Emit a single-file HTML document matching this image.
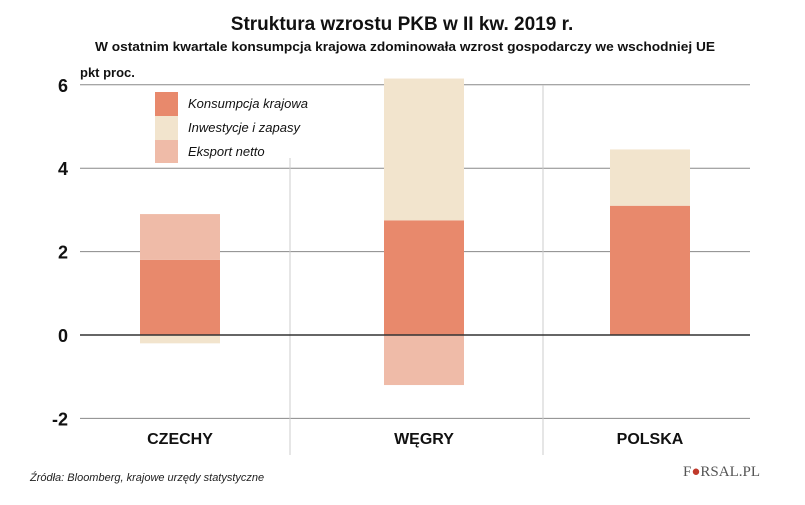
<!DOCTYPE html>
<html><head><meta charset="utf-8"><style>
body{margin:0;background:#fff;width:805px;height:500px;overflow:hidden;font-family:"Liberation Sans",sans-serif}
svg text{font-family:"Liberation Sans",sans-serif}
</style></head><body>
<svg id="chart" width="805" height="500">
<text x="402" y="30" text-anchor="middle" font-size="19" font-weight="bold" fill="#111">Struktura wzrostu PKB w II kw. 2019 r.</text>
<text x="95" y="51" textLength="620" lengthAdjust="spacingAndGlyphs" font-size="12.5" font-weight="bold" fill="#111">W ostatnim kwartale konsumpcja krajowa zdominowała wzrost gospodarczy we wschodniej UE</text>
<text x="80" y="77" font-size="13" font-weight="bold" fill="#111">pkt proc.</text>
<g id="grid"></g>
<line x1="290" y1="158" x2="290" y2="455" stroke="#ccc"/>
<line x1="543" y1="85" x2="543" y2="455" stroke="#ccc"/>
<g id="bars"></g>
<g id="zero"></g>
<g>
<rect x="155" y="92" width="23" height="24" fill="#e8896c"/>
<rect x="155" y="116" width="23" height="24" fill="#f2e4cd"/>
<rect x="155" y="140" width="23" height="23" fill="#efbba8"/>
<text x="188" y="108" font-size="13" font-style="italic" fill="#111">Konsumpcja krajowa</text>
<text x="188" y="132" font-size="13" font-style="italic" fill="#111">Inwestycje i zapasy</text>
<text x="188" y="156" font-size="13" font-style="italic" fill="#111">Eksport netto</text>
</g>
<text x="30" y="481" font-size="11" font-style="italic" fill="#222">Źródła:  Bloomberg, krajowe urzędy statystyczne</text>
<text x="760" y="476" text-anchor="end" font-size="15" fill="#555" style="font-family:'Liberation Serif',serif">F<tspan fill="#c0392b">●</tspan>RSAL.PL</text>
</svg>
<script>
const categories=["CZECHY","WĘGRY","POLSKA"];
const konsumpcja=[1.8,2.75,3.1];
const inwestycje=[-0.2,3.4,1.35];
const eksport=[1.1,-1.2,0];
const ticks=[6,4,2,0,-2];
const NS="http://www.w3.org/2000/svg";
const y=v=>335-v*41.7;
const centers=[180,424,650], bw=80;
const grid=document.getElementById('grid');
ticks.forEach(t=>{
 const l=document.createElementNS(NS,'line');
 l.setAttribute('x1',80);l.setAttribute('x2',750);l.setAttribute('y1',y(t));l.setAttribute('y2',y(t));
 l.setAttribute('stroke',t===0?'#333':'#888');l.setAttribute('stroke-width',t===0?1.5:1);
 
 
 (t===0?document.getElementById('zero'):grid).appendChild(l);
 const tx=document.createElementNS(NS,'text');
 tx.setAttribute('x',68);tx.setAttribute('y',y(t)+7);tx.setAttribute('text-anchor','end');
 tx.setAttribute('font-size',18);tx.setAttribute('font-weight','bold');tx.setAttribute('fill','#111');
 tx.textContent=t;
 
 
 grid.appendChild(tx);
});
const bars=document.getElementById('bars');
function rect(x,v0,v1,fill,name){
 const r=document.createElementNS(NS,'rect');
 const a=y(Math.max(v0,v1)),b=y(Math.min(v0,v1));
 r.setAttribute('x',x);r.setAttribute('y',a);r.setAttribute('width',bw);r.setAttribute('height',Math.max(0,b-a));
 r.setAttribute('fill',fill);
 
 
 bars.appendChild(r);
}
categories.forEach((c,i)=>{
 const x=centers[i]-bw/2;
 let pos=0,neg=0;
 [[konsumpcja[i],'#e8896c','bar-konsumpcja'],[eksport[i],'#efbba8','bar-eksport'],[inwestycje[i],'#f2e4cd','bar-inwestycje']].forEach(s=>{
  const v=s[0];
  if(v>=0){rect(x,pos,pos+v,s[1],s[2]);pos+=v;}
  else{rect(x,neg,neg+v,s[1],s[2]);neg+=v;}
 });
 const t=document.createElementNS(NS,'text');
 t.setAttribute('x',centers[i]);t.setAttribute('y',444);t.setAttribute('text-anchor','middle');
 t.setAttribute('font-size',16);t.setAttribute('font-weight','bold');t.setAttribute('fill','#111');
 t.textContent=c;
 
 
 bars.appendChild(t);
});
</script>
</body></html>
